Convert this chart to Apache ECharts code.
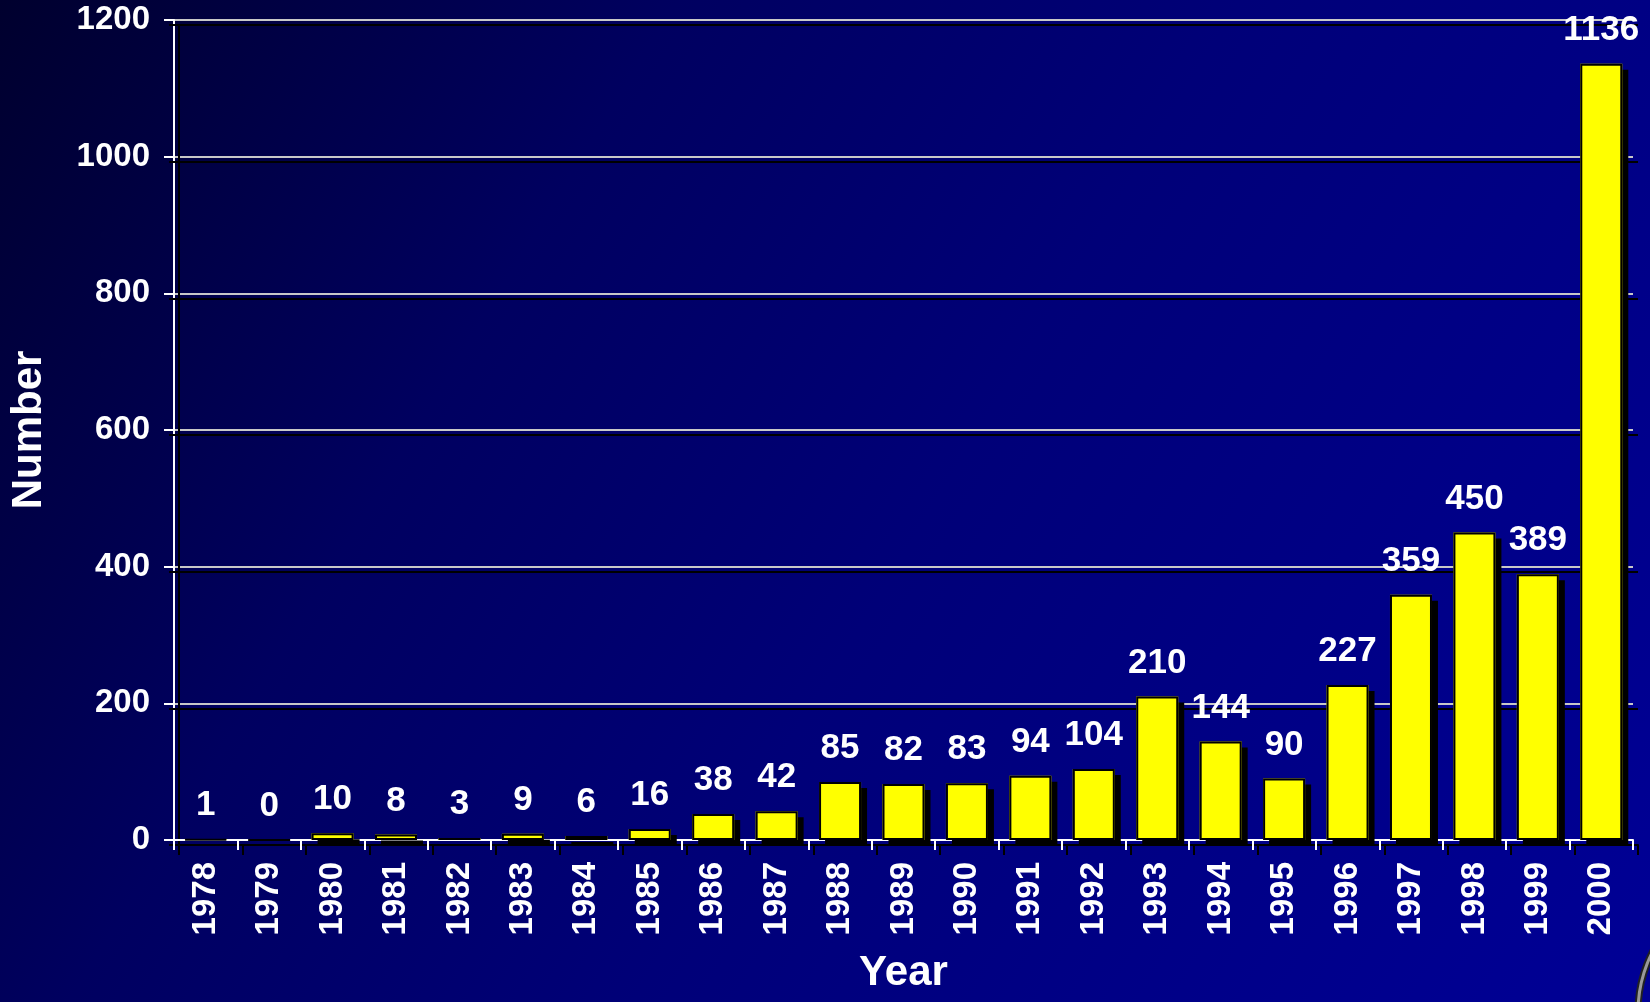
<!DOCTYPE html>
<html>
<head>
<meta charset="utf-8">
<style>
html,body{margin:0;padding:0;width:1650px;height:1002px;overflow:hidden;background:#000050;}
#chart{width:1650px;height:1002px;}
</style>
<script src="https://cdn.jsdelivr.net/npm/echarts@6/dist/echarts.min.js"></script>
</head>
<body>
<div id="chart"></div>
<script>
const years = ['1978','1979','1980','1981','1982','1983','1984','1985','1986','1987','1988','1989','1990','1991','1992','1993','1994','1995','1996','1997','1998','1999','2000'];
const counts = [1,0,10,8,3,9,6,16,38,42,85,82,83,94,104,210,144,90,227,359,450,389,1136];
const yMin = 0, yMax = 1200, yStep = 200;

const FONT = '"Liberation Sans", Arial, sans-serif';
const txtShadow = {textShadowColor:'#000', textShadowOffsetX:3, textShadowOffsetY:3, textShadowBlur:0};

const chart = echarts.init(document.getElementById('chart'));
chart.setOption({
  backgroundColor: {
    type:'linear', x:0, y:0, x2:1, y2:1,
    colorStops:[{offset:0,color:'#00002e'},{offset:0.3,color:'#000060'},{offset:0.55,color:'#000078'},{offset:1,color:'#000096'}]
  },
  animation:false,
  grid:{left:174, right:17, top:20, bottom:162, containLabel:false, outerBoundsMode:'none'},
  graphic:[
    {type:'circle', shape:{cx:1770, cy:1012, r:132}, style:{fill:'none', stroke:'#222', lineWidth:7}, silent:true},
    {type:'circle', shape:{cx:1770, cy:1012, r:132}, style:{fill:'none', stroke:'#9a9a9a', lineWidth:3}, silent:true}
  ],
  xAxis:{
    type:'category', data:years, boundaryGap:true,
    name:'Year', nameLocation:'middle', nameGap:112, nameMoveOverlap:false,
    nameTextStyle:Object.assign({color:'#fff', fontSize:42, fontWeight:'bold', fontFamily:FONT}, txtShadow),
    axisLine:{show:true, lineStyle:{color:'#fff', width:2, shadowColor:'#000', shadowOffsetX:5, shadowOffsetY:5}},
    axisTick:{show:true, alignWithLabel:false, length:10, lineStyle:{color:'#fff', width:2, shadowColor:'#000', shadowOffsetX:5, shadowOffsetY:5}},
    axisLabel:Object.assign({color:'#fff', fontSize:33, fontWeight:'bold', fontFamily:FONT, rotate:90, margin:22, interval:0}, txtShadow),
    splitLine:{show:false}
  },
  yAxis:{
    type:'value', min:yMin, max:yMax, interval:yStep,
    name:'Number', nameLocation:'middle', nameGap:124, nameRotate:90, nameMoveOverlap:false,
    nameTextStyle:Object.assign({color:'#fff', fontSize:42, fontWeight:'bold', fontFamily:FONT}, txtShadow),
    axisLine:{show:true, lineStyle:{color:'#fff', width:2, shadowColor:'#000', shadowOffsetX:5, shadowOffsetY:5}},
    axisTick:{show:true, length:10, lineStyle:{color:'#fff', width:2, shadowColor:'#000', shadowOffsetX:5, shadowOffsetY:5}},
    axisLabel:Object.assign({color:'#fff', fontSize:33, fontWeight:'bold', fontFamily:FONT, margin:24, formatter:function(v){return String(v);}}, txtShadow),
    splitLine:{show:true, lineStyle:{color:'#c8c8c8', width:2, shadowColor:'#000', shadowOffsetX:5, shadowOffsetY:5}}
  },
  series:[{
    type:'bar', data:counts, barWidth:42, z:2,
    itemStyle:{color:'#ffff00', borderWidth:0, shadowColor:'#000', shadowOffsetX:6, shadowOffsetY:6, shadowBlur:0},
    label:Object.assign({show:true, position:'top', distance:16, color:'#fff', fontSize:35, fontWeight:'bold', fontFamily:FONT}, txtShadow)
  },{
    type:'bar', data:counts, barWidth:42, barGap:'-100%', z:3, silent:true,
    itemStyle:{color:'rgba(0,0,0,0)', borderColor:'#000', borderWidth:2},
    label:{show:false}
  }]
});
</script>
</body>
</html>
